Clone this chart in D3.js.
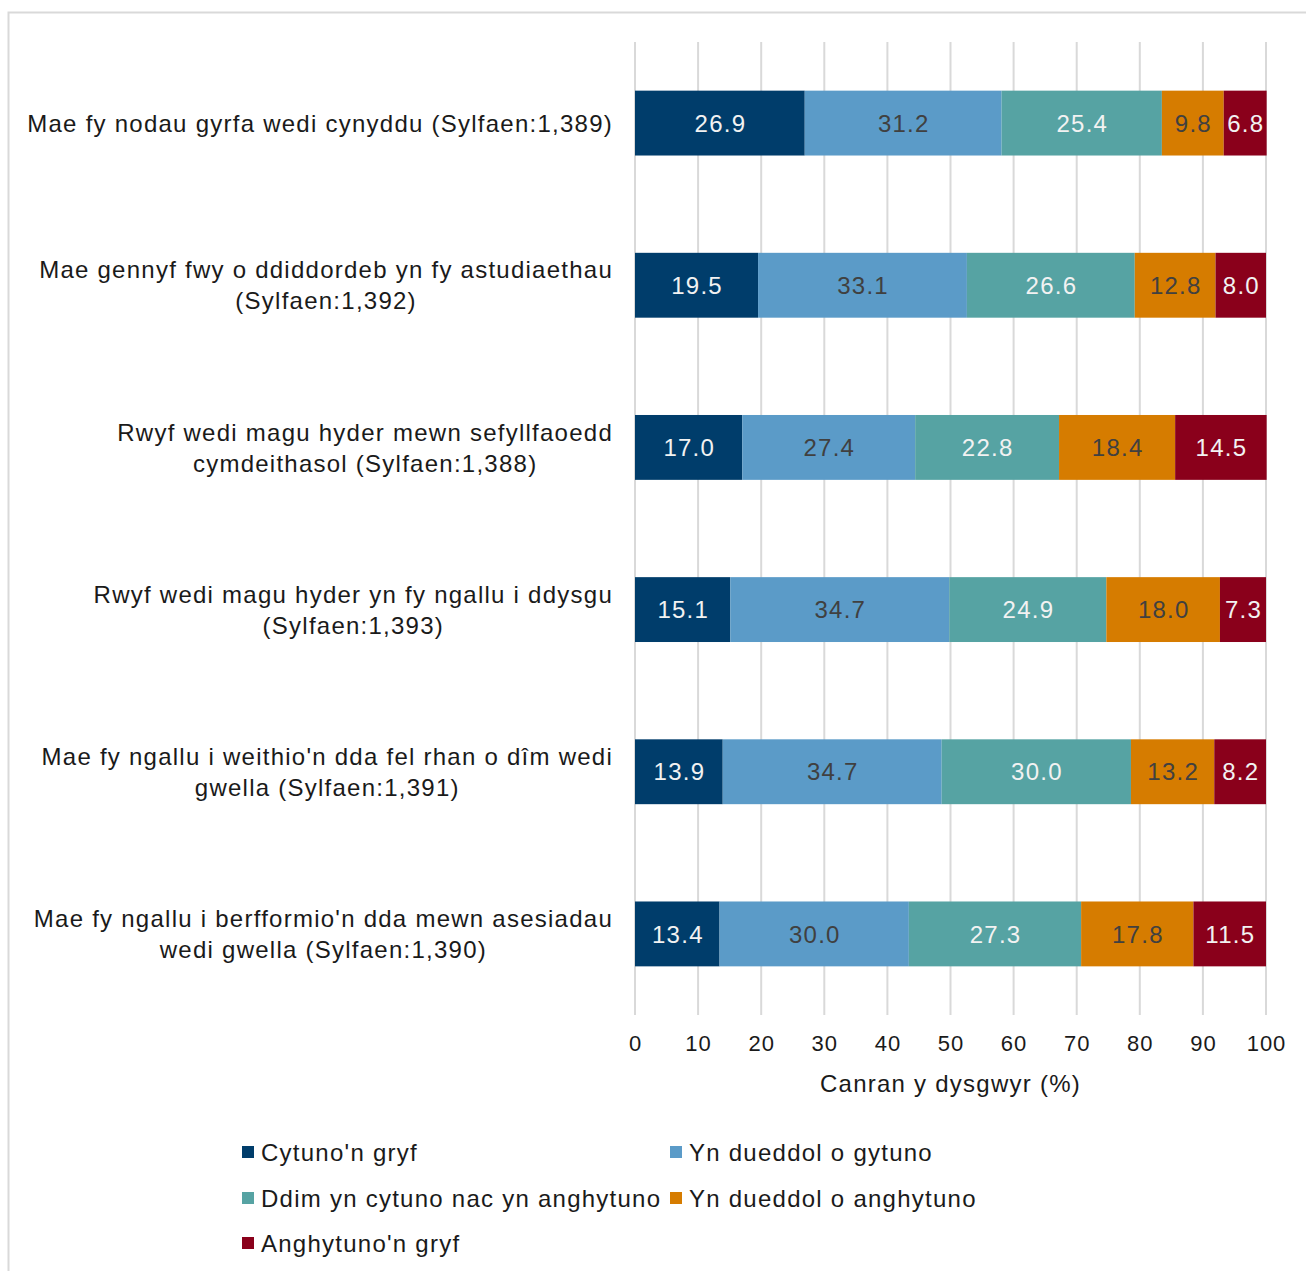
<!DOCTYPE html>
<html>
<head>
<meta charset="utf-8">
<script src="https://cdn.jsdelivr.net/npm/d3@7"></script>
<style>
body { margin: 0; background: #fff; }
text { font-family: "Liberation Sans", Arial, sans-serif; letter-spacing: 1.25px; }
</style>
</head>
<body>
<div id="chart"></div>
<script>
// categories (each label split into its lines)
var categories = [
  ["Mae fy nodau gyrfa wedi cynyddu (Sylfaen:1,389)"],
  ["Mae gennyf fwy o ddiddordeb yn fy astudiaethau", "(Sylfaen:1,392)"],
  ["Rwyf wedi magu hyder mewn sefyllfaoedd", "cymdeithasol (Sylfaen:1,388)"],
  ["Rwyf wedi magu hyder yn fy ngallu i ddysgu", "(Sylfaen:1,393)"],
  ["Mae fy ngallu i weithio'n dda fel rhan o dîm wedi", "gwella (Sylfaen:1,391)"],
  ["Mae fy ngallu i berfformio'n dda mewn asesiadau", "wedi gwella (Sylfaen:1,390)"]
];
var series = ["Cytuno'n gryf", "Yn dueddol o gytuno", "Ddim yn cytuno nac yn anghytuno", "Yn dueddol o anghytuno", "Anghytuno'n gryf"];
var cytunoGryf      = [26.9, 19.5, 17.0, 15.1, 13.9, 13.4];
var dueddolGytuno   = [31.2, 33.1, 27.4, 34.7, 34.7, 30.0];
var ddimCytuno      = [25.4, 26.6, 22.8, 24.9, 30.0, 27.3];
var dueddolAnghytuno= [9.8, 12.8, 18.4, 18.0, 13.2, 17.8];
var anghytunoGryf   = [6.8, 8.0, 14.5, 7.3, 8.2, 11.5];
var xTicks = [0, 10, 20, 30, 40, 50, 60, 70, 80, 90, 100];
var xTitle = "Canran y dysgwyr (%)";

var colors = ["#003d6b", "#5b9bc8", "#56a3a3", "#d67c00", "#8a001b"];
var labelColors = ["#f2f2f2", "#404040", "#f2f2f2", "#404040", "#f2f2f2"];

var W = 1306, H = 1271;
var svg = d3.select("#chart").append("svg").attr("width", W).attr("height", H);

// outer frame
svg.append("rect").attr("x", 8.5).attr("y", 12.5).attr("width", 1320).attr("height", 1300)
  .attr("fill", "none").attr("stroke", "#d9d9d9").attr("stroke-width", 2);

var x = d3.scaleLinear().domain([0, 100]).range([635, 1266]);
var y = d3.scaleBand().domain(d3.range(categories.length)).range([42, 1015]).paddingInner(0.6).paddingOuter(0.3);

var rows = d3.range(categories.length).map(i => ({
  i: i,
  vals: [cytunoGryf[i], dueddolGytuno[i], ddimCytuno[i], dueddolAnghytuno[i], anghytunoGryf[i]]
}));
var stack = d3.stack().keys(d3.range(5)).value((d, k) => d.vals[k]);
var stacked = stack(rows);

// gridlines
svg.append("g").selectAll("line").data(xTicks).enter().append("line")
  .attr("x1", d => x(d)).attr("x2", d => x(d))
  .attr("y1", 42).attr("y2", 1015)
  .attr("stroke", "#d9d9d9").attr("stroke-width", 2);

// bars
var layers = svg.append("g").selectAll("g").data(stacked).enter().append("g")
  .attr("fill", (d, k) => colors[k]);

layers.selectAll("rect").data(d => d).enter().append("rect")
  .attr("x", d => x(d[0]))
  .attr("width", d => x(d[1]) - x(d[0]))
  .attr("y", d => y(d.data.i))
  .attr("height", y.bandwidth());

layers.each(function(s, k) {
  d3.select(this).selectAll("text").data(s).enter().append("text")
    .attr("x", d => (x(d[0]) + x(d[1])) / 2 + 0.6)
    .attr("y", d => y(d.data.i) + y.bandwidth() / 2)
    .attr("dy", "0.36em")
    .attr("text-anchor", "middle")
    .attr("font-size", 24)
    .attr("fill", labelColors[k])
    .text(d => d3.format(".1f")(d.data.vals[k]));
});

// category labels, right-aligned block with centred lines
var labelRight = 613;
categories.forEach(function(lines, i) {
  var cy = y(i) + y.bandwidth() / 2;
  var g = svg.append("g");
  var t = g.append("text").attr("font-size", 24).attr("fill", "#1a1a1a").attr("text-anchor", "middle");
  lines.forEach(function(line, j) {
    t.append("tspan").attr("x", 0)
      .attr("y", cy + (j - (lines.length - 1) / 2) * 31)
      .attr("dy", "0.36em")
      .text(line);
  });
  var bw = t.node().getBBox().width;
  g.attr("transform", "translate(" + (labelRight - bw / 2) + ",0)");
});

// x tick labels
svg.append("g").selectAll("text").data(xTicks).enter().append("text")
  .attr("x", d => x(d) + 0.5).attr("y", 1043).attr("dy", "0.36em")
  .attr("text-anchor", "middle").attr("font-size", 22).attr("fill", "#1a1a1a")
  .style("letter-spacing", "1px")
  .text(d => d);

svg.append("text").attr("x", x(50)).attr("y", 1083).attr("dy", "0.36em")
  .attr("text-anchor", "middle").attr("font-size", 24).attr("fill", "#1a1a1a")
  .text(xTitle);

// legend
var legendPos = [[242, 1152], [670, 1152], [242, 1198], [670, 1198], [242, 1243]];
var leg = svg.append("g").selectAll("g").data(series).enter().append("g")
  .attr("transform", (d, k) => "translate(" + legendPos[k][0] + "," + legendPos[k][1] + ")");
leg.append("rect").attr("x", 0).attr("y", -6).attr("width", 12).attr("height", 12)
  .attr("fill", (d, k) => colors[k]);
leg.append("text").attr("x", 19).attr("dy", "0.36em").attr("font-size", 24).attr("fill", "#1a1a1a")
  .text(d => d);
</script>
</body>
</html>
